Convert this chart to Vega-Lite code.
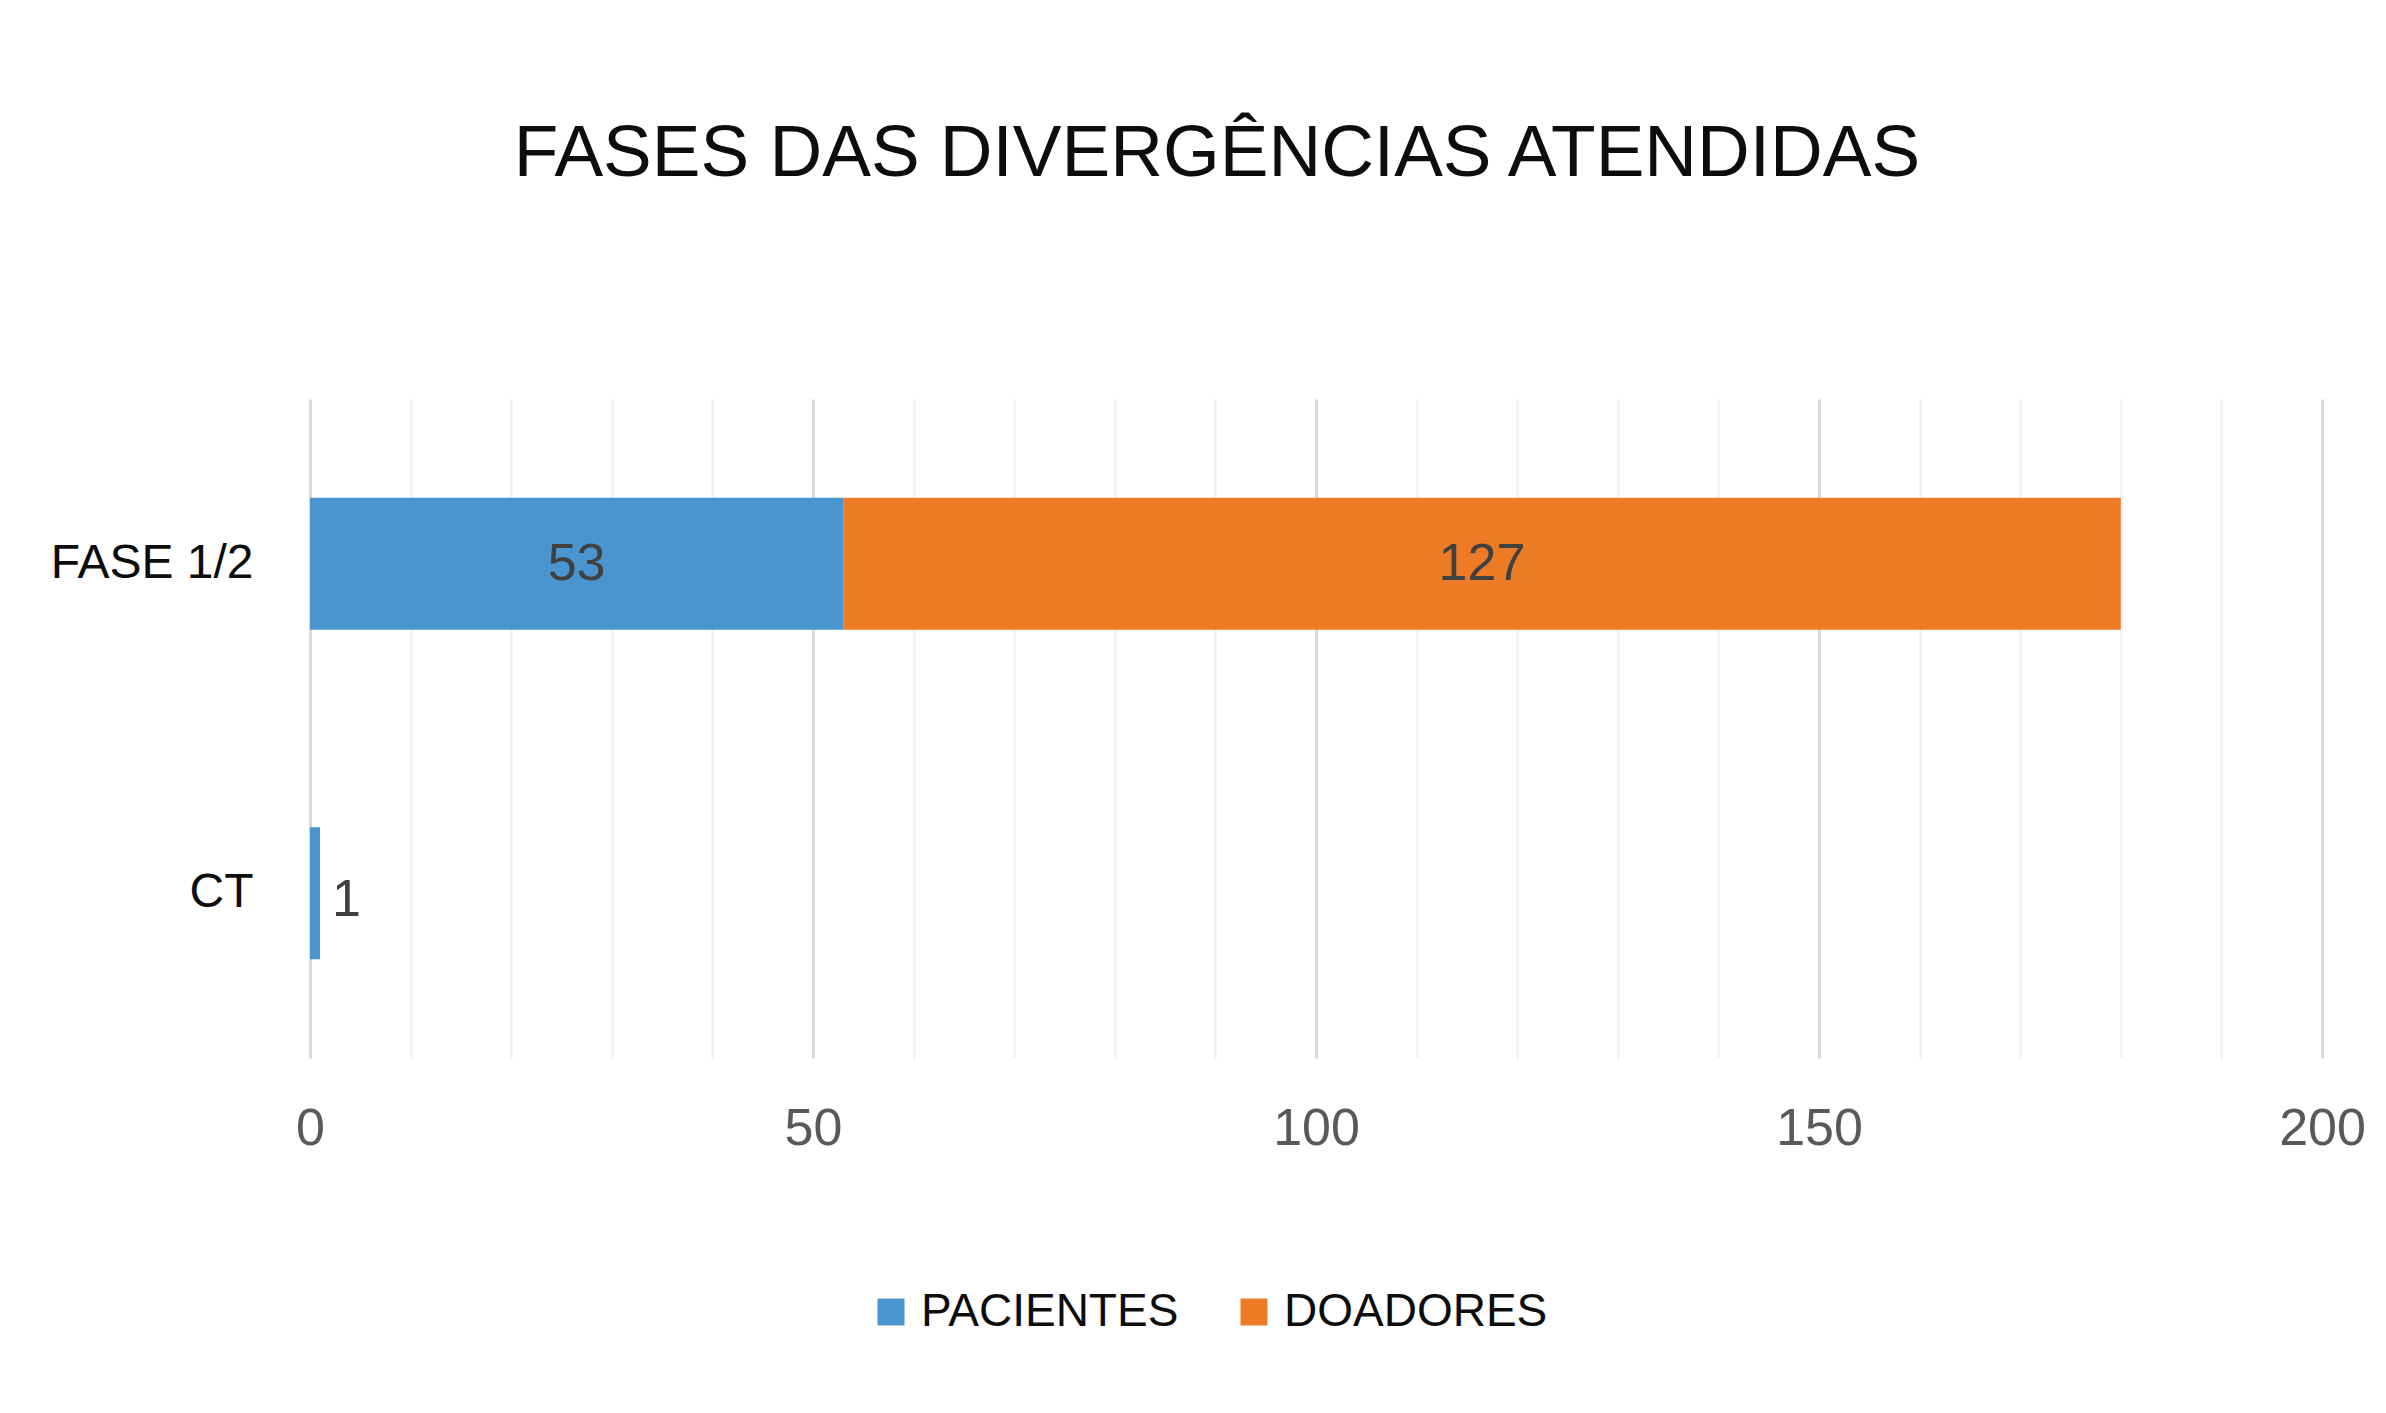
{
  "$schema": "https://vega.github.io/schema/vega-lite/v6.json",
  "width": 2012,
  "height": 659,
  "autosize": {"type": "none"},
  "padding": {"left": 310, "top": 399, "right": 64, "bottom": 355},
  "background": "white",
  "config": {"view": {"stroke": null}, "font": "Liberation Sans"},
  "title": {
    "text": "FASES DAS DIVERGÊNCIAS ATENDIDAS",
    "font": "Liberation Sans",
    "fontSize": 73,
    "fontWeight": "normal",
    "color": "#0d0d0d",
    "anchor": "middle",
    "frame": "group",
    "dx": -99,
    "offset": 150,
    "baseline": "alphabetic"
  },
  "data": {
    "values": [
      {"fase": "FASE 1/2", "serie": "PACIENTES", "valor": 53},
      {"fase": "FASE 1/2", "serie": "DOADORES", "valor": 127},
      {"fase": "CT", "serie": "PACIENTES", "valor": 1}
    ]
  },
  "transform": [
    {"stack": "valor", "groupby": ["fase"], "sort": [{"field": "serie", "order": "descending"}], "as": ["x0", "x1"]}
  ],
  "encoding": {
    "y": {
      "field": "fase",
      "type": "nominal",
      "sort": ["FASE 1/2", "CT"],
      "scale": {"paddingInner": 0.6, "paddingOuter": 0.3},
      "axis": {
        "title": null,
        "domain": false,
        "ticks": false,
        "labelFont": "Liberation Sans",
        "labelFontSize": 48,
        "labelColor": "#0d0d0d",
        "labelPadding": 57,
        "labelLimit": 0
      }
    }
  },
  "layer": [
    {
      "mark": {"type": "bar"},
      "encoding": {
        "x": {
          "field": "x0",
          "type": "quantitative",
          "scale": {"domain": [0, 200], "nice": false},
          "axis": {
            "title": null,
            "domain": false,
            "ticks": false,
            "values": [0, 10, 20, 30, 40, 50, 60, 70, 80, 90, 100, 110, 120, 130, 140, 150, 160, 170, 180, 190, 200],
            "labelExpr": "datum.value % 50 === 0 ? datum.label : ''",
            "labelFont": "Liberation Sans",
            "labelFontSize": 52,
            "labelColor": "#595959",
            "labelPadding": 45,
            "labelFlush": false,
            "labelOverlap": false,
            "grid": true,
            "gridWidth": 3,
            "gridColor": {"condition": {"test": "datum.value % 50 === 0", "value": "#d9d9d9"}, "value": "#f2f2f2"}
          }
        },
        "x2": {"field": "x1"},
        "color": {
          "field": "serie",
          "type": "nominal",
          "scale": {"domain": ["PACIENTES", "DOADORES"], "range": ["#4a95cf", "#ed7b25"]},
          "legend": {
            "title": null,
            "orient": "none",
            "direction": "horizontal",
            "legendX": 558,
            "legendY": 890,
            "padding": 0,
            "symbolType": "square",
            "symbolSize": 729,
            "symbolStrokeWidth": 0,
            "labelFont": "Liberation Sans",
            "labelFontSize": 46,
            "labelColor": "#0d0d0d",
            "labelOffset": 7,
            "labelLimit": 0,
            "columnPadding": 52
          }
        }
      }
    },
    {
      "transform": [
        {"filter": "datum.valor > 5"},
        {"fold": ["x0", "x1"], "as": ["k", "pos"]}
      ],
      "mark": {"type": "text", "font": "Liberation Sans", "fontSize": 52, "color": "#404040", "baseline": "middle", "align": "center"},
      "encoding": {
        "x": {"aggregate": "mean", "field": "pos", "type": "quantitative"},
        "detail": {"field": "serie"},
        "text": {"field": "valor", "type": "quantitative"}
      }
    },
    {
      "transform": [{"filter": "datum.valor <= 5"}],
      "mark": {"type": "text", "font": "Liberation Sans", "fontSize": 52, "color": "#404040", "baseline": "middle", "align": "left", "dx": 12, "dy": 7},
      "encoding": {
        "x": {"field": "x1", "type": "quantitative"},
        "text": {"field": "valor", "type": "quantitative"}
      }
    }
  ]
}
